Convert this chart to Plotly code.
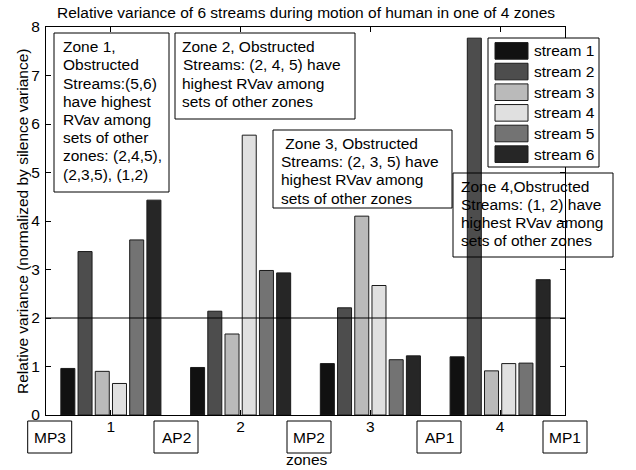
import plotly.graph_objects as go

# ---------------- data ----------------
zones = [1, 2, 3, 4]
zone_tick_text = ["1", "2", "3", "4"]
stream_names = ["stream 1", "stream 2", "stream 3", "stream 4", "stream 5", "stream 6"]
stream_colors = ["#111111", "#4d4d4d", "#bababa", "#e0e0e0", "#737373", "#262626"]
stream1 = [0.96, 0.98, 1.06, 1.20]
stream2 = [3.37, 2.14, 2.21, 7.77]
stream3 = [0.90, 1.67, 4.10, 0.91]
stream4 = [0.65, 5.77, 2.67, 1.06]
stream5 = [3.61, 2.98, 1.14, 1.07]
stream6 = [4.43, 2.93, 1.22, 2.79]
series = [stream1, stream2, stream3, stream4, stream5, stream6]
threshold = 2
node_labels = ["MP3", "AP2", "MP2", "AP1", "MP1"]

title_text = "Relative variance of 6 streams during motion of human in one of 4 zones"
ytitle = "Relative variance (normalized by silence variance)"
xtitle = "zones"

zone_notes = [
    ["Zone 1,", "Obstructed", "Streams:(5,6)", "have highest", "RVav among",
     "sets of other", "zones: (2,4,5),", "(2,3,5), (1,2)"],
    ["Zone 2, Obstructed", "Streams: (2, 4, 5) have", "highest RVav among",
     "sets of other zones"],
    ["\u00a0Zone 3, Obstructed", "Streams: (2, 3, 5) have", "highest RVav among",
     "sets of other zones"],
    ["Zone 4,Obstructed", "Streams: (1, 2) have", "highest RVav among",
     "sets of other zones"],
]

# ---------------- layout geometry (pixels) ----------------
W, H = 636, 470
L, R, T, B = 46, 565, 27, 415
FONT = "Liberation Sans, Arial, sans-serif"
FS = 15.5


def px(x):
    return (x - L) / (R - L)


def py(y):
    return (B - y) / (B - T)


fig = go.Figure()
for name, vals, col in zip(stream_names, series, stream_colors):
    fig.add_trace(go.Bar(
        x=zones, y=vals, name=name,
        marker=dict(color=col, line=dict(color="#1a1a1a", width=1)),
        showlegend=False,
    ))

shapes = []
annotations = []

# horizontal reference line
shapes.append(dict(type="line", xref="paper", yref="y", x0=0, x1=1,
                   y0=threshold, y1=threshold,
                   line=dict(color="black", width=1), layer="above"))

# zone note boxes: (box left, top, right, bottom, text left, first line y, line step)
note_geom = [
    (54, 33, 169, 192, 60.5, 46.7, 18.2),
    (175, 33, 355, 119, 180.5, 46.7, 18.2),
    (273, 130, 452, 208, 279, 143.3, 18.3),
    (453, 173, 613, 257, 459, 186.7, 17.9),
]
for lines, (bx0, by0, bx1, by1, tx, ty, step) in zip(zone_notes, note_geom):
    shapes.append(dict(type="rect", xref="paper", yref="paper",
                       x0=px(bx0), x1=px(bx1), y0=py(by1), y1=py(by0),
                       line=dict(color="black", width=1),
                       fillcolor="rgba(0,0,0,0)", layer="above"))
    for i, ln in enumerate(lines):
        annotations.append(dict(x=px(tx), y=py(ty + i * step), xref="paper", yref="paper",
                                text=ln, showarrow=False, xanchor="left", yanchor="middle",
                                font=dict(family=FONT, size=FS, color="black")))

# manual legend
shapes.append(dict(type="rect", xref="paper", yref="paper",
                   x0=px(488), x1=px(599), y0=py(167), y1=py(38),
                   line=dict(color="black", width=1), fillcolor="white", layer="above"))
for i, (name, col) in enumerate(zip(stream_names, stream_colors)):
    cy = 50.9 + i * 20.65
    shapes.append(dict(type="rect", xref="paper", yref="paper",
                       x0=px(495), x1=px(528), y0=py(cy + 8.3), y1=py(cy - 8.3),
                       line=dict(color="#1a1a1a", width=1), fillcolor=col, layer="above"))
    annotations.append(dict(x=px(531.5), y=py(cy), xref="paper", yref="paper",
                            text=name, showarrow=False, xanchor="left", yanchor="middle",
                            font=dict(family=FONT, size=FS, color="black")))

# node labels below axis
node_centers = [49.7, 176, 309, 439, 565]
for lab, cx in zip(node_labels, node_centers):
    shapes.append(dict(type="rect", xref="paper", yref="paper",
                       x0=px(cx - 22), x1=px(cx + 22), y0=py(453), y1=py(421),
                       line=dict(color="black", width=1), fillcolor="white", layer="above"))
    annotations.append(dict(x=px(cx), y=py(437.5), xref="paper", yref="paper",
                            text=lab, showarrow=False, xanchor="center", yanchor="middle",
                            font=dict(family=FONT, size=FS, color="black")))

# title, axis titles
annotations.append(dict(x=px(305.5), y=py(13), xref="paper", yref="paper",
                        text=title_text, showarrow=False, xanchor="center", yanchor="middle",
                        font=dict(family=FONT, size=FS, color="black")))
annotations.append(dict(x=px(307), y=py(459), xref="paper", yref="paper",
                        text=xtitle, showarrow=False, xanchor="center", yanchor="middle",
                        font=dict(family=FONT, size=FS, color="black")))
annotations.append(dict(x=px(22), y=py(222), xref="paper", yref="paper",
                        text=ytitle, showarrow=False, xanchor="center", yanchor="middle",
                        textangle=-90,
                        font=dict(family=FONT, size=FS, color="black")))

fig.update_layout(
    width=W, height=H,
    margin=dict(l=L, r=W - R, t=T, b=H - B, pad=0),
    paper_bgcolor="white", plot_bgcolor="white",
    barmode="group", bargap=0.204, bargroupgap=0.186,
    font=dict(family=FONT, size=FS, color="black"),
    shapes=shapes, annotations=annotations,
    showlegend=False,
)
fig.update_xaxes(range=[0.5, 4.5], tickvals=zones, ticktext=zone_tick_text,
                 ticks="inside", ticklen=5, tickcolor="black", mirror="ticks",
                 showline=True, linecolor="black", linewidth=1, showgrid=False,
                 zeroline=False, ticklabelstandoff=-3,
                 tickfont=dict(family=FONT, size=FS, color="black"))
fig.update_yaxes(range=[0, 8], tickvals=list(range(0, 9)), ticks="inside", ticklen=5,
                 tickcolor="black", mirror="ticks", showline=True, linecolor="black",
                 linewidth=1, showgrid=False, zeroline=False, ticklabelstandoff=2,
                 tickfont=dict(family=FONT, size=FS, color="black"))

fig.write_html("out.html")
